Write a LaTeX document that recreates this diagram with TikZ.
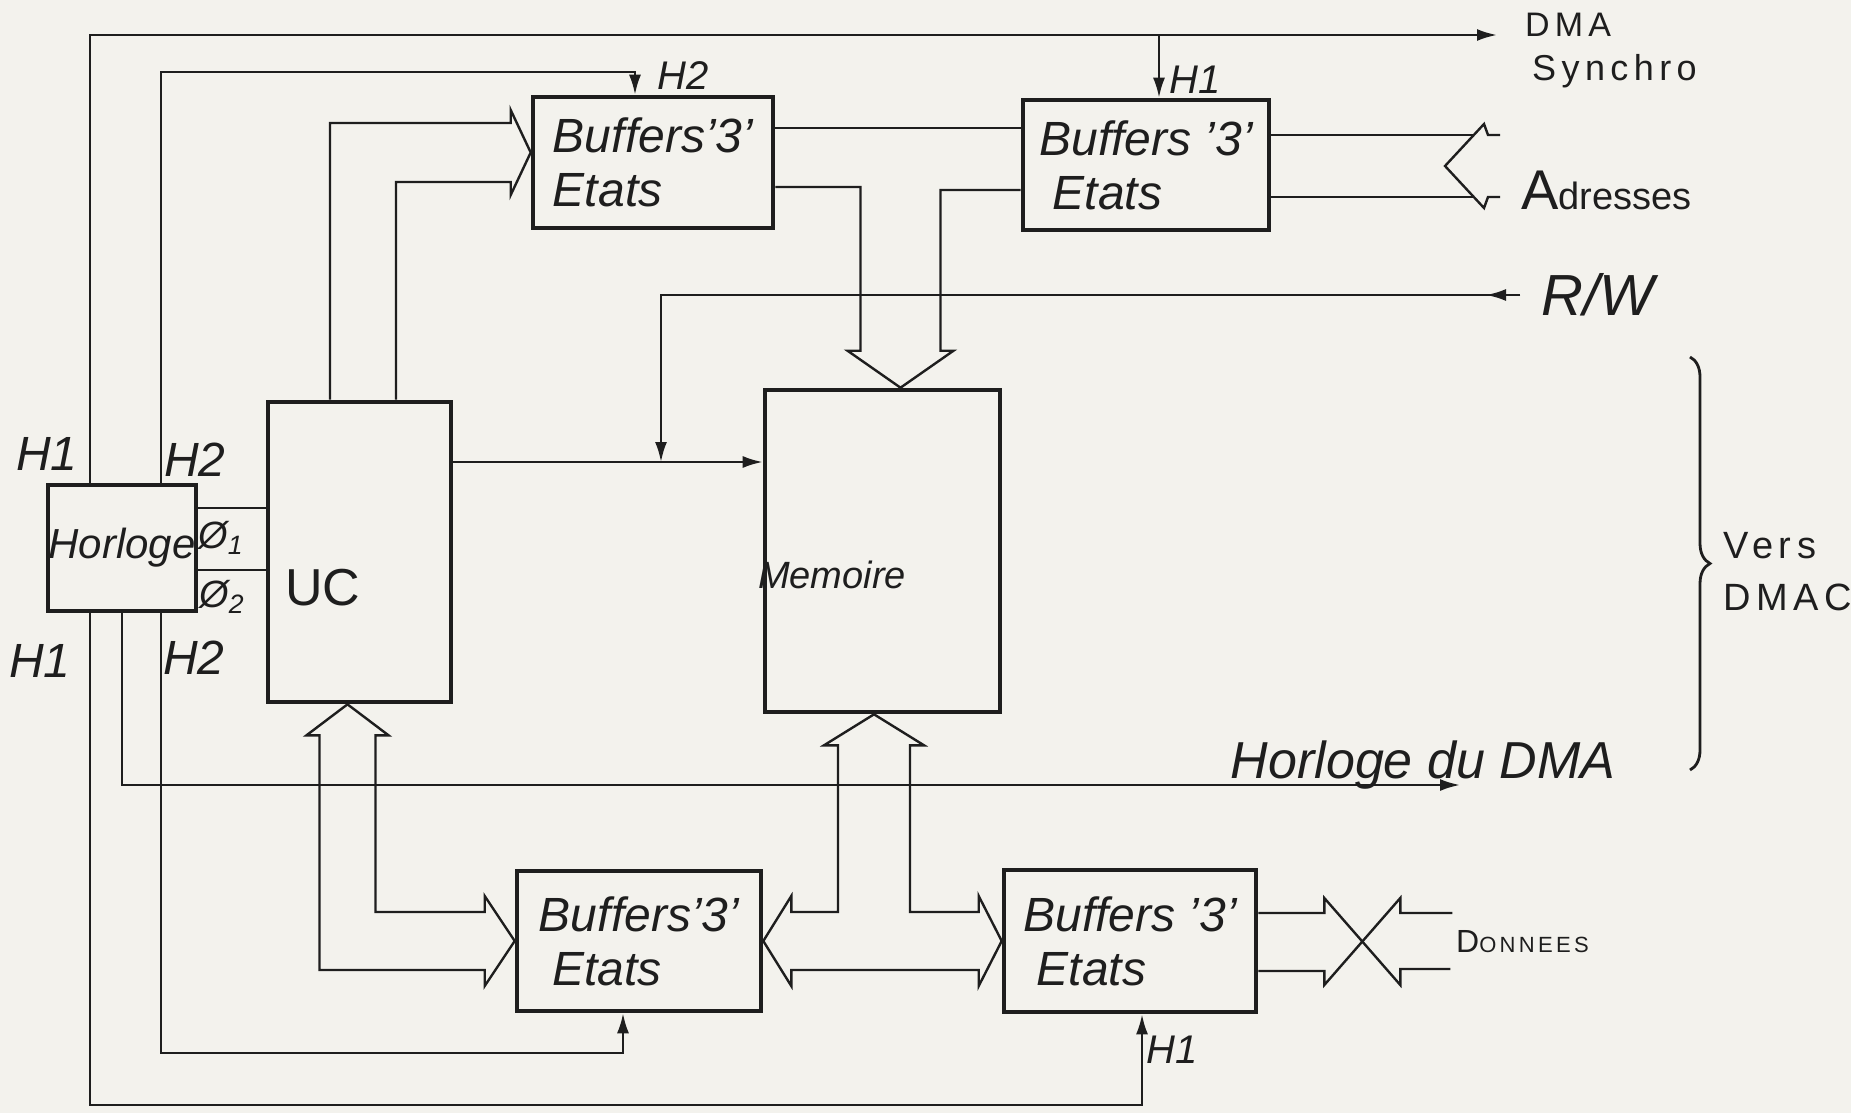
\documentclass[tikz,border=0pt]{standalone}
\usepackage{fontspec}
\setmainfont{Liberation Sans}
\newfontfamily\spacedfont[LetterSpace=15]{Liberation Sans}
\usetikzlibrary{arrows.meta,calc,decorations.pathreplacing}
\definecolor{paper}{RGB}{243,242,237}
\definecolor{ink}{RGB}{30,30,30}

\begin{document}
\begin{tikzpicture}[x=0.5pt,y=-0.5pt,>={Latex[length=10pt,width=6pt]},color=ink,line width=1.2pt,
  unit/.style={draw,line width=2.3pt,inner sep=0pt},
  buf/.style={unit,align=left,font=\itshape\fontsize{24}{27}\selectfont},
  lbl/.style={inner sep=0pt,font=\itshape\fontsize{22}{24}\selectfont},
  side/.style={inner sep=0pt,anchor=west,font=\spacedfont\fontsize{17}{19}\selectfont}]
\fill[paper] (0,0) rectangle (1851,1113);
\useasboundingbox (0,0) rectangle (1851,1113);

% blocks
\node[unit,minimum width=74pt,minimum height=63pt,font=\itshape\fontsize{21}{23}\selectfont] (hor) at (122,548) {Horloge};
\node[unit,minimum width=91.5pt,minimum height=150pt] (uc) at (359.5,552) {};
\node[unit,minimum width=117.5pt,minimum height=161pt] (mem) at (882.5,551) {};
\node[buf,minimum width=120pt,minimum height=65.5pt] (bufA) at (653,162.5) {Buffers'3'\\Etats};
\node[buf,minimum width=123pt,minimum height=65pt] (bufB) at (1146,165) {Buffers '3'\\ \ Etats};
\node[buf,minimum width=122pt,minimum height=70pt] (bufC) at (639,941) {Buffers'3'\\ \ Etats};
\node[buf,minimum width=126pt,minimum height=71pt] (bufD) at (1130,941) {Buffers '3'\\ \ Etats};
\node[inner sep=0pt,font=\fontsize{26}{28}\selectfont] (uctxt) at (323,588) {UC};
\node[inner sep=0pt,font=\itshape\fontsize{19}{21}\selectfont] (memtxt) at (832,575) {Memoire};

% points used by the connectors
\coordinate (h1x) at (90,0);
\coordinate (h2x) at (161,0);
\coordinate (dma) at (1497,35);
\coordinate (h1a) at (1159,35);
\coordinate (h2a) at (635,72);
\coordinate (h1b) at (1142,1105);
\coordinate (h2b) at (623,1053);
\coordinate (hdma) at (1460,785);
\coordinate (rw) at (1520,295);
\coordinate (rwj) at (661,462);
\coordinate (phi1) at (0,508);
\coordinate (phi2) at (0,570);
\coordinate (ucA) at (330,0);
\coordinate (ucB) at (396,0);
\coordinate (abY) at (0,128);
\coordinate (mAy) at (0,187);
\coordinate (mBy) at (0,190);
\coordinate (adU) at (0,135);
\coordinate (adL) at (0,197);
\coordinate (tA) at ($(bufA.west)+(0,-10)$);
\coordinate (tM) at ($(mem.north)+(18,0)$);
\coordinate (tM2) at ($(mem.south)+(-8.5,0)$);
\coordinate (tU) at ($(uc.south)+(-12,0)$);
\coordinate (tAd) at (1445,166);
\coordinate (tX) at ($(bufD.east)+(104,0)$);

% clock lines
\draw[->] (hor.north -| h1x) |- (dma);
\draw[->] (h1a) -- (h1a |- bufB.north);
\draw[->] (hor.north -| h2x) |- (h2a) -- (h2a |- bufA.north);
\draw[->] (hor.south -| h1x) |- (h1b) -- (h1b |- bufD.south);
\draw[->] (hor.south -| h2x) |- (h2b) -- (h2b |- bufC.south);
\draw[->] (hor.south) |- (hdma);
\draw (hor.east |- phi1) -- (uc.west |- phi1);
\draw (hor.east |- phi2) -- (uc.west |- phi2);

% control lines
\draw[->] (uc.east |- rwj) -- (mem.west |- rwj);
\draw[->] (rw) -| (rwj);
\draw[->] (rw) -- ++(-34,0);

% address bus
\draw (uc.north -| ucA) |- ($(tA)+(-20,-29.5)$) -- ++(0,-13) -- (tA) -- ++(-20,42.5) -- ++(0,-13) -| (uc.north -| ucB);
\draw (bufA.east |- abY) -- (bufB.west |- abY);
\draw (bufA.east |- mAy) -| ($(tM)+(-40,-37)$) -- ++(-13,0) -- (tM) -- ++(53,-37) -- ++(-13,0) |- (bufB.west |- mBy);
\draw (bufB.east |- adU) -- ($(tAd)+(29,-31)$);
\draw (bufB.east |- adL) -- ($(tAd)+(29,31)$);
\draw ($(tAd)+(55,-31)$) -- ++(-12,0) -- ++(-4,-11) -- (tAd) -- ++(39,42) -- ++(4,-11) -- ++(12,0);

% data bus
\draw (bufC.west) -- ++(-30,-45) -- ++(0,16) -| ($(tU)+(28,31)$) -- ++(13,0) -- (tU) -- ++(-41,31) -- ++(13,0) |- ($(bufC.west)+(-30,29)$) -- ++(0,16) -- (bufC.west);
\draw (bufC.east) -- ++(28,-45) -- ++(0,16) -| ($(tM2)+(-36,31)$) -- ++(-14,0) -- (tM2) -- ++(50,31) -- ++(-14,0) |- ($(bufD.west)+(-23,-29)$) -- ++(0,-16) -- (bufD.west) -- ++(-23,45) -- ++(0,-16) -- ($(bufC.east)+(28,29)$) -- ++(0,16) -- (bufC.east);
\draw ($(bufD.east)+(0,-28)$) -- ($(tX)+(-38,-28)$) -- ++(0,-15) -- ($(tX)+(38,44)$) -- ++(0,-16) -- ++(50,0);
\draw ($(bufD.east)+(0,30)$) -- ($(tX)+(-38,30)$) -- ++(0,14) -- ($(tX)+(38,-43)$) -- ++(0,15) -- ++(52,0);

% brace
\draw[line width=1.4pt,decorate,decoration={brace,amplitude=10pt}] (1690,357) -- (1690,770);

% labels
\node[lbl,font=\itshape\fontsize{24}{26}\selectfont] (lH1a) at (47,454) {H1};
\node[lbl,font=\itshape\fontsize{24}{26}\selectfont] (lH2a) at (195,460) {H2};
\node[lbl,font=\itshape\fontsize{24}{26}\selectfont] (lH1b) at (40,661) {H1};
\node[lbl,font=\itshape\fontsize{24}{26}\selectfont] (lH2b) at (194,658) {H2};
\node[lbl,font=\itshape\fontsize{19}{21}\selectfont] (lphi1) at (221,538) {Ø\textsubscript{1}};
\node[lbl,font=\itshape\fontsize{19}{21}\selectfont] (lphi2) at (222,597) {Ø\textsubscript{2}};
\node[lbl,font=\itshape\fontsize{20}{22}\selectfont] (lH2c) at (683,76) {H2};
\node[lbl,font=\itshape\fontsize{20}{22}\selectfont] (lH1c) at (1195,80) {H1};
\node[lbl,font=\itshape\fontsize{20}{22}\selectfont] (lH1d) at (1172,1050) {H1};
\node[side] (ldma) at (1524,25) {DMA};
\node[side,font=\spacedfont\fontsize{18}{20}\selectfont] (lsync) at (1531,71) {Synchro};
\node[side,font=\fontsize{19}{21}\selectfont] (ladr) at (1520,190) {{\fontsize{28}{30}\selectfont A}dresses};
\node[side,font=\itshape\fontsize{29}{31}\selectfont] (lrw) at (1540,295) {R/W};
\node[lbl,font=\itshape\fontsize{26}{28}\selectfont] (lhdma) at (1423,765) {Horloge du DMA};
\node[side,align=left,font=\spacedfont\fontsize{19}{26}\selectfont] (lvers) at (1722,572) {Vers\\DMAC};
\node[side,font=\spacedfont\fontsize{11}{13}\selectfont] (ldon) at (1455,942) {{\fontsize{16}{17}\selectfont D}ONNEES};
\end{tikzpicture}
\end{document}
